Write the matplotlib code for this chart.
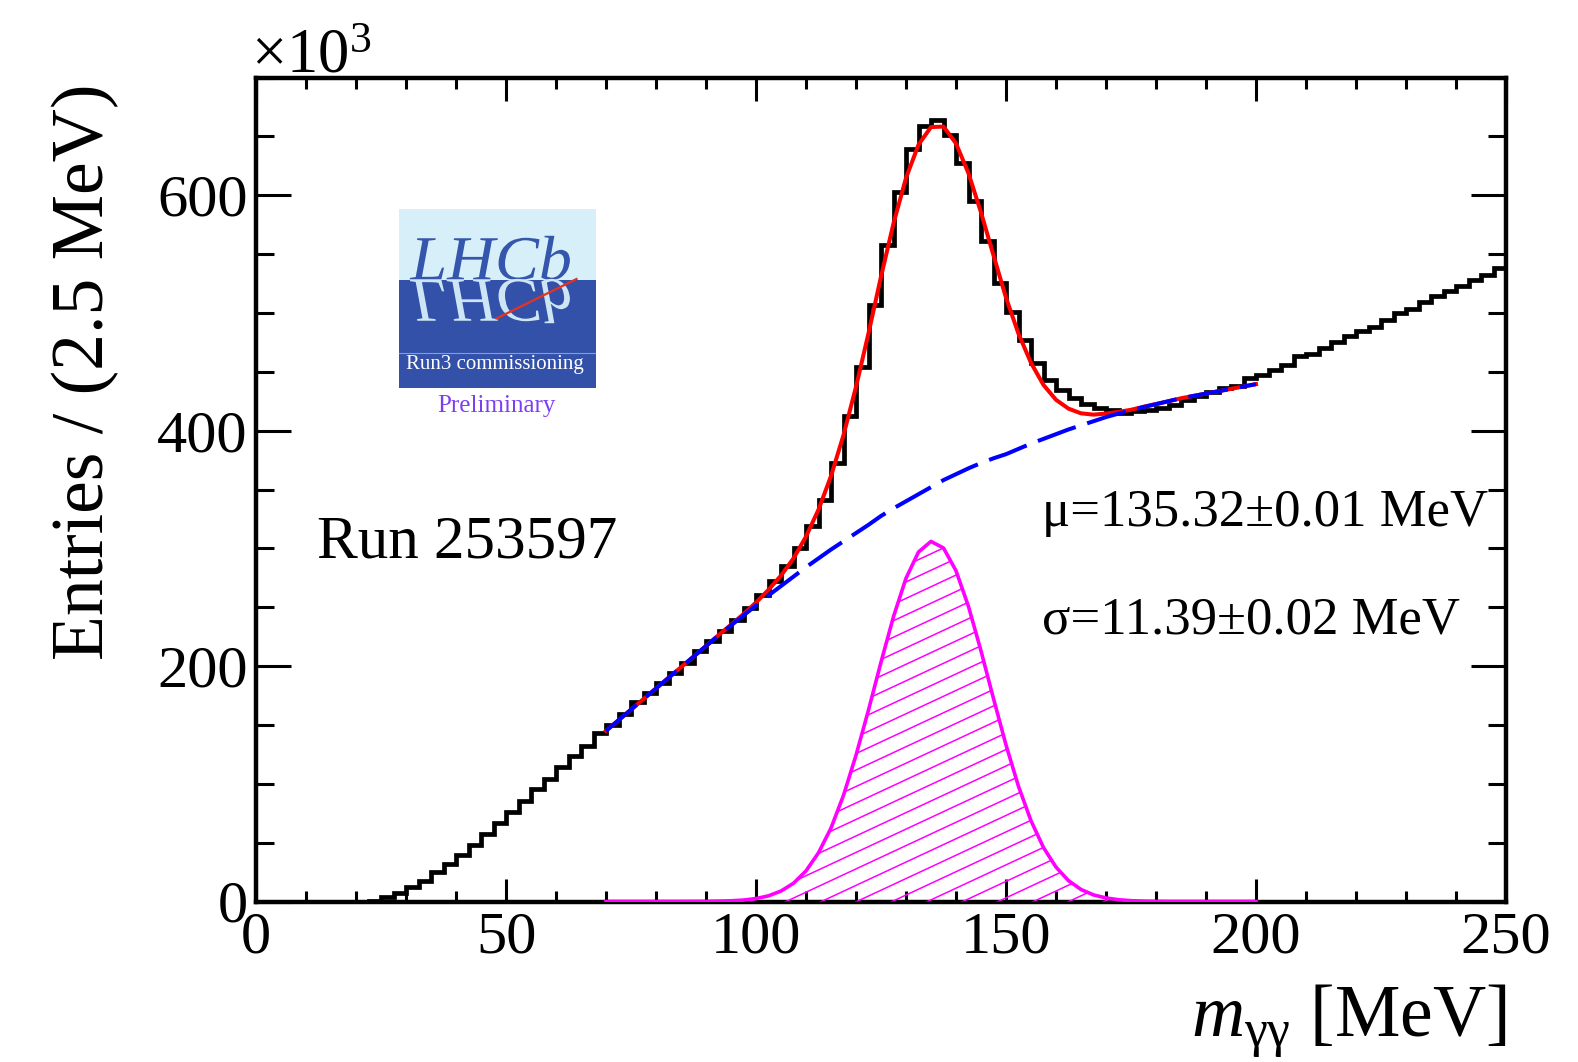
import numpy as np
import matplotlib.pyplot as plt
from matplotlib.ticker import MultipleLocator
from matplotlib.textpath import TextPath
from matplotlib.patches import PathPatch, Rectangle
from matplotlib.font_manager import FontProperties
from matplotlib.transforms import Affine2D

plt.rcParams['font.family'] = ['Liberation Serif', 'DejaVu Serif']
plt.rcParams['mathtext.fontset'] = 'custom'
plt.rcParams['mathtext.rm'] = 'Liberation Serif'
plt.rcParams['mathtext.it'] = 'Liberation Serif:italic'

# histogram: 100 bins of 2.5 MeV, entries in units of 10^3
bin_edges = np.arange(0, 250.1, 2.5)
entries = [0, 0, 0, 0, 0, 0, 0, 0, 0, 0.8,
           3.7, 7.1, 12.2, 17.8, 24.9, 32.0, 39.7, 48.2, 57.5, 66.6,
           75.9, 85.8, 95.5, 104.0, 114.2, 123.2, 131.7, 143.0, 150.1, 159.5,
           169.1, 177.0, 185.6, 194.0, 202.5, 212.5, 221.0, 229.5, 239.4, 249.3,
           260.6, 272.0, 284.7, 300.3, 318.7, 341.4, 372.5, 412.2, 454.1, 506.5,
           557.5, 602.8, 639.4, 658.6, 663.7, 651.5, 627.5, 594.9, 560.9, 525.5,
           500.8, 476.8, 457.5, 443.3, 434.4, 427.5, 422.8, 419.6, 417.8, 415.0,
           416.4, 417.5, 419.2, 422.0, 426.4, 429.2, 432.8, 436.2, 437.7, 444.7,
           447.6, 451.8, 456.1, 463.2, 465.1, 470.3, 475.3, 480.7, 484.4, 487.8,
           494.3, 500.0, 503.7, 509.3, 514.2, 518.4, 522.6, 527.7, 532.6, 538.2]

# fit curves sampled every 2.5 MeV from 70 to 200 MeV
fit_x = np.arange(70, 200.1, 2.5)
fit_total = [145, 154, 163, 172, 181, 190, 199, 208, 217.1, 226.3,
             235.1, 244.2, 254, 264.8, 276.9, 291.5, 310, 332.9, 361.4, 396.2,
             437.2, 482.7, 530.8, 576, 614.6, 642.9, 657.9, 658.3, 644, 618.6,
             585.4, 548.9, 513, 482.3, 457.6, 438.8, 426.2, 418.7, 414.7, 413.6,
             414.5, 416, 417.7, 420.3, 422.6, 425, 427.5, 429.5, 431.5, 433.5,
             435.5, 437.5, 439.5]
fit_bkg = [145, 154, 163, 172, 181, 190, 199, 208, 217, 226,
           234.5, 243, 251.5, 260, 268, 276, 284, 291.5, 299, 306,
           313, 320, 327.5, 334, 340, 346, 352, 358, 363, 368,
           372.5, 376.5, 380, 384.5, 389, 393, 397, 401, 404.5, 408,
           411.5, 414.5, 417, 420, 422.5, 425, 427.5, 429.5, 431.5, 433.5,
           435.5, 437.5, 439.5]
fit_sig = [0, 0, 0, 0, 0, 0, 0, 0.05, 0.1, 0.3,
           0.6, 1.2, 2.5, 4.8, 8.9, 15.5, 26, 41.4, 62.4, 90.2,
           124.2, 162.7, 203.3, 242, 274.6, 296.9, 305.9, 300.3, 281, 250.6,
           212.9, 172.4, 133, 97.8, 68.6, 45.8, 29.2, 17.7, 10.2, 5.6,
           3.0, 1.5, 0.7, 0.3, 0.1, 0, 0, 0, 0, 0,
           0, 0, 0]

W, H = 1578, 1062
fig = plt.figure(figsize=(W/100, H/100), dpi=100)
ax = fig.add_axes([256/W, 1-901.5/H, 1250/W, 824/H])

ax.stairs(entries, bin_edges, baseline=None, color='black', lw=3.4, zorder=2)

# signal with hatching
poly = ax.fill_between(fit_x, fit_sig, 0, facecolor='none', edgecolor='none')
clip = poly.get_paths()[0]
slope = np.tan(np.radians(25)) * 1250 / 824
for y0 in np.arange(-1.6, 0.5, 0.02):
    ln, = ax.plot([0, 1], [y0, y0 + slope], transform=ax.transAxes,
                  color='#ff00ff', lw=1.1, zorder=3)
    ln.set_clip_path(clip, ax.transData)
ax.plot(fit_x, fit_sig, color='#ff00ff', lw=2.6, zorder=4)

ax.plot(fit_x, fit_total, color='#ff0000', lw=2.9, zorder=5)
ax.plot(fit_x, fit_bkg, color='#0000ff', lw=2.9, dashes=(10, 3), zorder=6)

ax.set_xlim(0, 250)
ax.set_ylim(0, 700)
ax.set_xticks(np.arange(0, 251, 50))
ax.set_yticks(np.arange(0, 601, 200))
ax.xaxis.set_minor_locator(MultipleLocator(10))
ax.yaxis.set_minor_locator(MultipleLocator(50))
ax.tick_params(which='both', direction='in', top=True, right=True,
               width=2.2, labelsize=43.5)
ax.tick_params(axis='x', which='major', length=16.5, pad=7)
ax.tick_params(axis='x', which='minor', length=8)
ax.tick_params(axis='y', which='major', length=25, pad=6)
ax.tick_params(axis='y', which='minor', length=13)
for sp in ax.spines.values():
    sp.set_linewidth(3.2)

fig.text(85.5/W, 1-372/H, 'Entries / (2.5 MeV)', rotation=90,
         ha='center', va='center', fontsize=53)
fig.text(1507/W, 1-1036/H, r'$m_{\mathrm{γγ}}$ [MeV]', ha='right',
         va='baseline', fontsize=53)
fig.text(251/W, 1-73/H, r'×10$^{3}$', ha='left', va='baseline', fontsize=45)

ax.text((317-256)/1250, 1-(543-77.5)/824, 'Run 253597',
        transform=ax.transAxes, ha='left', va='center', fontsize=44)
fig.text(1041.6/W, 1-513/H, 'μ=135.32±0.01 MeV', ha='left', va='center',
         fontsize=38)
fig.text(1041.6/W, 1-621/H, 'σ=11.39±0.02 MeV', ha='left', va='center',
         fontsize=38)

# LHCb logo box
lax = fig.add_axes([398.5/W, 1-387.5/H, 197/W, 179/H])
lax.set_xlim(0, 197)
lax.set_ylim(0, 179)
lax.axis('off')
lax.add_patch(Rectangle((0, 0), 197, 108, color='#3351a8', lw=0))
lax.add_patch(Rectangle((0, 108), 197, 71, color='#d6eff9', lw=0))
fp = FontProperties(family='Liberation Serif', style='italic')
tp = TextPath((0, 0), 'LHCb', size=60, prop=fp)
up = Affine2D().scale(1.1, 1.05).translate(12, 108).transform_path(tp)
down = Affine2D().scale(1.1, -1.05).translate(12, 108).transform_path(tp)
lax.add_patch(PathPatch(up, color='#3556ad', lw=0))
lax.add_patch(PathPatch(down, color='#cde6f5', lw=0))
lax.plot([98, 178], [69, 108.5], color='#e8321e', lw=1.6)
lax.plot([0, 197], [34.5, 34.5], color='#8a9ad6', lw=0.8)
lax.text(96, 23, 'Run3 commissioning', color='white', fontsize=15,
         ha='center', va='center')
fig.text(496.7/W, 1-406/H, 'Preliminary', color='#7b3ff2', fontsize=18,
         ha='center', va='center')

fig.savefig('out.png', dpi=100)
